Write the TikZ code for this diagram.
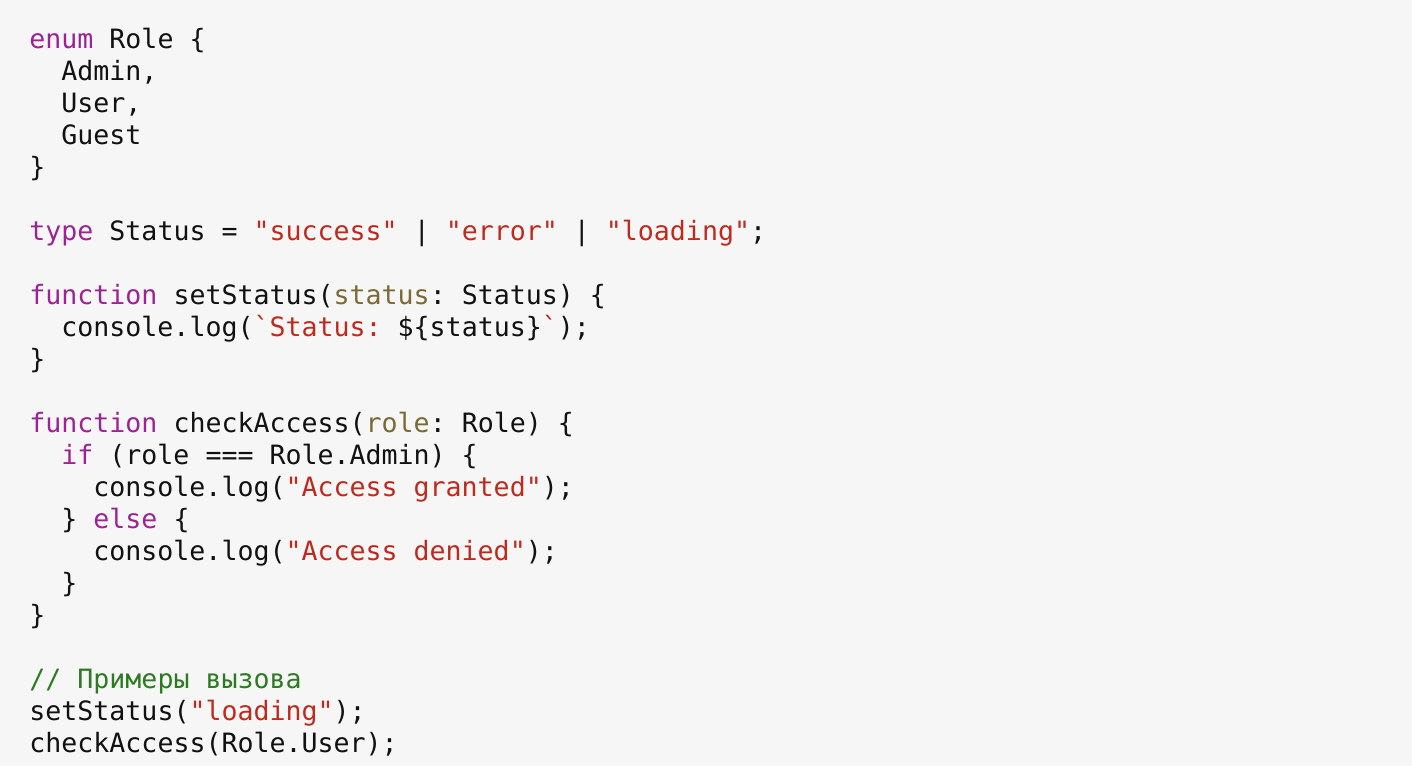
\documentclass[tikz,border=0pt]{standalone}
\usepackage{fontspec}
\setmonofont{DejaVu Sans Mono}
\usepackage{tikz}
\usetikzlibrary{positioning}
\frenchspacing

\definecolor{bggray}{HTML}{F6F6F6}
\definecolor{kwpurple}{HTML}{9B2393}
\definecolor{strred}{HTML}{BE2A1E}
\definecolor{prmolive}{HTML}{7A6A36}
\definecolor{cmtgreen}{HTML}{2E7A22}
\definecolor{codeblack}{HTML}{111111}

\newcommand{\kw}[1]{\textcolor{kwpurple}{#1}}
\newcommand{\strg}[1]{\textcolor{strred}{#1}}
\newcommand{\prm}[1]{\textcolor{prmolive}{#1}}
\newcommand{\cmt}[1]{\textcolor{cmtgreen}{#1}}

\begin{document}
\begin{tikzpicture}[x=1pt,y=1pt,
        code/.style={anchor=base west,inner sep=0pt,text=codeblack,
                     font=\fontsize{13.3}{16}\selectfont\ttfamily}]
        \fill[bggray] (0,0) rectangle (706,-383);
        \useasboundingbox (0,0) rectangle (706,-383);

        \node[code] (enumRole)   at (14.5,-24)  {\kw{enum} Role \{};
        \node[code] (roleAdmin)  at (30.5,-40)  {Admin,};
        \node[code] (roleUser)   at (30.5,-56)  {User,};
        \node[code] (roleGuest)  at (30.5,-72)  {Guest};
        \node[code] (enumEnd)    at (14.5,-88)  {\}};

        \node[code] (typeStatus) at (14.5,-120) {\kw{type} Status = \strg{"success"} | \strg{"error"} | \strg{"loading"};};

        \node[code] (fnSet)      at (14.5,-152) {\kw{function} setStatus(\prm{status}: Status) \{};
        \node[code] (setLog)     at (30.5,-168) {console.log(\strg{`Status: }\$\{status\}\strg{`});};
        \node[code] (fnSetEnd)   at (14.5,-184) {\}};

        \node[code] (fnCheck)    at (14.5,-216) {\kw{function} checkAccess(\prm{role}: Role) \{};
        \node[code] (ifAdmin)    at (30.5,-232) {\kw{if} (role === Role.Admin) \{};
        \node[code] (logGranted) at (46.5,-248) {console.log(\strg{"Access granted"});};
        \node[code] (elseLine)   at (30.5,-264) {\} \kw{else} \{};
        \node[code] (logDenied)  at (46.5,-280) {console.log(\strg{"Access denied"});};
        \node[code] (ifEnd)      at (30.5,-296) {\}};
        \node[code] (fnCheckEnd) at (14.5,-312) {\}};

        % вызовы
        \node[code] (comment)    at (14.5,-344) {\cmt{// Примеры вызова}};
        \node[code] (callSet)    at (14.5,-360) {setStatus(\strg{"loading"});};
        \node[code] (callCheck)  at (14.5,-376) {checkAccess(Role.User);};
    \end{tikzpicture}
\end{document}
